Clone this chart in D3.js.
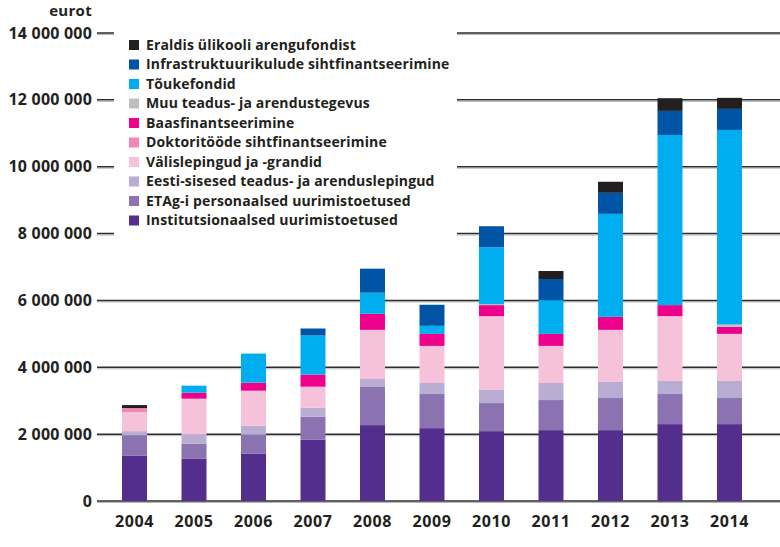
<!DOCTYPE html>
<html>
<head>
<meta charset="utf-8">
<script src="https://cdn.jsdelivr.net/npm/d3@7"></script>
<style>
  body { margin: 0; background: #fff; }
  text { font-family: "Open Sans", sans-serif; font-weight: 700; fill: #231f20; }
</style>
</head>
<body>
<div id="chart"></div>
<script>
// years and series values (euro), bottom of stack first
const years = ["2004","2005","2006","2007","2008","2009","2010","2011","2012","2013","2014"];
const inst    = [1350000,1260000,1410000,1830000,2270000,2180000,2090000,2120000,2120000,2300000,2300000];
const etag    = [ 620000, 450000, 570000, 690000,1140000,1020000, 840000, 900000, 960000, 900000, 780000];
const eesti   = [ 120000, 270000, 270000, 270000, 240000, 330000, 390000, 510000, 480000, 390000, 510000];
const valis   = [ 570000,1080000,1050000, 630000,1470000,1110000,2210000,1110000,1560000,1940000,1410000];
const doktori = [ 120000,      0,      0,      0,      0,      0,      0,      0,      0,      0,      0];
const baas    = [      0, 180000, 240000, 360000, 480000, 360000, 330000, 360000, 390000, 330000, 210000];
const muu     = [      0,      0,      0,      0,      0,      0,  30000,      0,      0,      0,  70000];
const touke   = [      0, 210000, 870000,1170000, 630000, 240000,1700000,1010000,3080000,5090000,5820000];
const infra   = [      0,      0,      0, 210000, 720000, 630000, 630000, 630000, 630000, 720000, 630000];
const eraldis = [  90000,      0,      0,      0,      0,      0,      0, 240000, 330000, 380000, 330000];

const yTicks = [0, 2000000, 4000000, 6000000, 8000000, 10000000, 12000000, 14000000];

const series = [
  {key: "inst",    label: "Institutsionaalsed uurimistoetused",        values: inst,    color: "#532e8c"},
  {key: "etag",    label: "ETAg-i personaalsed uurimistoetused",       values: etag,    color: "#8a73b0"},
  {key: "eesti",   label: "Eesti-sisesed teadus- ja arenduslepingud",  values: eesti,   color: "#b9add3"},
  {key: "valis",   label: "Välislepingud ja -grandid",                 values: valis,   color: "#f6c2da"},
  {key: "doktori", label: "Doktoritööde sihtfinantseerimine",          values: doktori, color: "#f287b7"},
  {key: "baas",    label: "Baasfinantseerimine",                       values: baas,    color: "#ec008c"},
  {key: "muu",     label: "Muu teadus- ja arendustegevus",             values: muu,     color: "#bcbec0"},
  {key: "touke",   label: "Tõukefondid",                               values: touke,   color: "#00aeef"},
  {key: "infra",   label: "Infrastruktuurikulude sihtfinantseerimine", values: infra,   color: "#0054a6"},
  {key: "eraldis", label: "Eraldis ülikooli arengufondist",            values: eraldis, color: "#231f20"}
];

const table = years.map((y, i) => {
  const row = {year: y};
  series.forEach(s => row[s.key] = s.values[i]);
  return row;
});

const width = 780, height = 547;

const svg = d3.select("#chart")
  .append("svg")
    .attr("width", width)
    .attr("height", height);

const yScale = d3.scaleLinear()
  .domain([0, 14000000])
  .range([501, 33]);

const xScale = d3.scaleBand()
  .domain(years)
  .range([104.75, 759.25])
  .paddingInner(0.58)
  .paddingOuter(0.29);

const fmt = v => d3.format(",")(v).replace(/,/g, " ");

// gridlines (dark line with a light shadow underneath)
const grid = svg.append("g");
grid.selectAll(".g-shadow")
  .data(yTicks)
  .enter()
  .append("line")
    .attr("x1", 97).attr("x2", width)
    .attr("y1", d => yScale(d) + 1.5)
    .attr("y2", d => yScale(d) + 1.5)
    .attr("stroke", "#b5b5b5")
    .attr("stroke-width", 1);
grid.selectAll(".g-line")
  .data(yTicks)
  .enter()
  .append("line")
    .attr("x1", 97).attr("x2", width)
    .attr("y1", d => yScale(d))
    .attr("y2", d => yScale(d))
    .attr("stroke", "#2e2e2e")
    .attr("stroke-width", 1.5);

// y labels
svg.append("g")
  .selectAll("text")
  .data(yTicks)
  .enter()
  .append("text")
    .attr("x", 92)
    .attr("y", d => yScale(d))
    .attr("dy", "0.35em")
    .attr("text-anchor", "end")
    .style("font-size", "16px")
    .style("letter-spacing", "0.2px")
    .text(d => fmt(d));

svg.append("text")
  .attr("x", 92)
  .attr("y", 16)
  .attr("text-anchor", "end")
  .style("font-size", "15px")
  .style("letter-spacing", "0.3px")
  .text("eurot");

// stacked bars
const stack = d3.stack().keys(series.map(s => s.key));
const stacked = stack(table);

svg.append("g")
  .selectAll("g")
  .data(stacked)
  .enter()
  .append("g")
    .attr("fill", (d, i) => series[i].color)
  .selectAll("rect")
  .data(d => d.filter(p => p[1] - p[0] > 0))
  .enter()
  .append("rect")
    .attr("x", d => xScale(d.data.year))
    .attr("width", xScale.bandwidth())
    .attr("y", d => yScale(d[1]))
    .attr("height", d => yScale(d[0]) - yScale(d[1]));

// x labels
svg.append("g")
  .selectAll("text")
  .data(years)
  .enter()
  .append("text")
    .attr("x", d => xScale(d) + xScale.bandwidth() / 2)
    .attr("y", 527)
    .attr("text-anchor", "middle")
    .style("font-size", "16px")
    .style("letter-spacing", "0.6px")
    .text(d => d);

// legend with white box over the gridlines
const legend = svg.append("g");
legend.append("rect")
  .attr("x", 114).attr("y", 26)
  .attr("width", 343).attr("height", 214)
  .attr("fill", "#fff");

const legendItems = series.slice().reverse();
const row = legend.selectAll(".item")
  .data(legendItems)
  .enter()
  .append("g")
    .attr("transform", (d, i) => `translate(129, ${45 + i * 19.5})`);

row.append("rect")
  .attr("x", 0).attr("y", -5)
  .attr("width", 10).attr("height", 10)
  .attr("fill", d => d.color);

row.append("text")
  .attr("x", 17)
  .attr("dy", "0.35em")
  .style("font-size", "14px")
  .style("letter-spacing", "0.15px")
  .text(d => d.label);
</script>
</body>
</html>
